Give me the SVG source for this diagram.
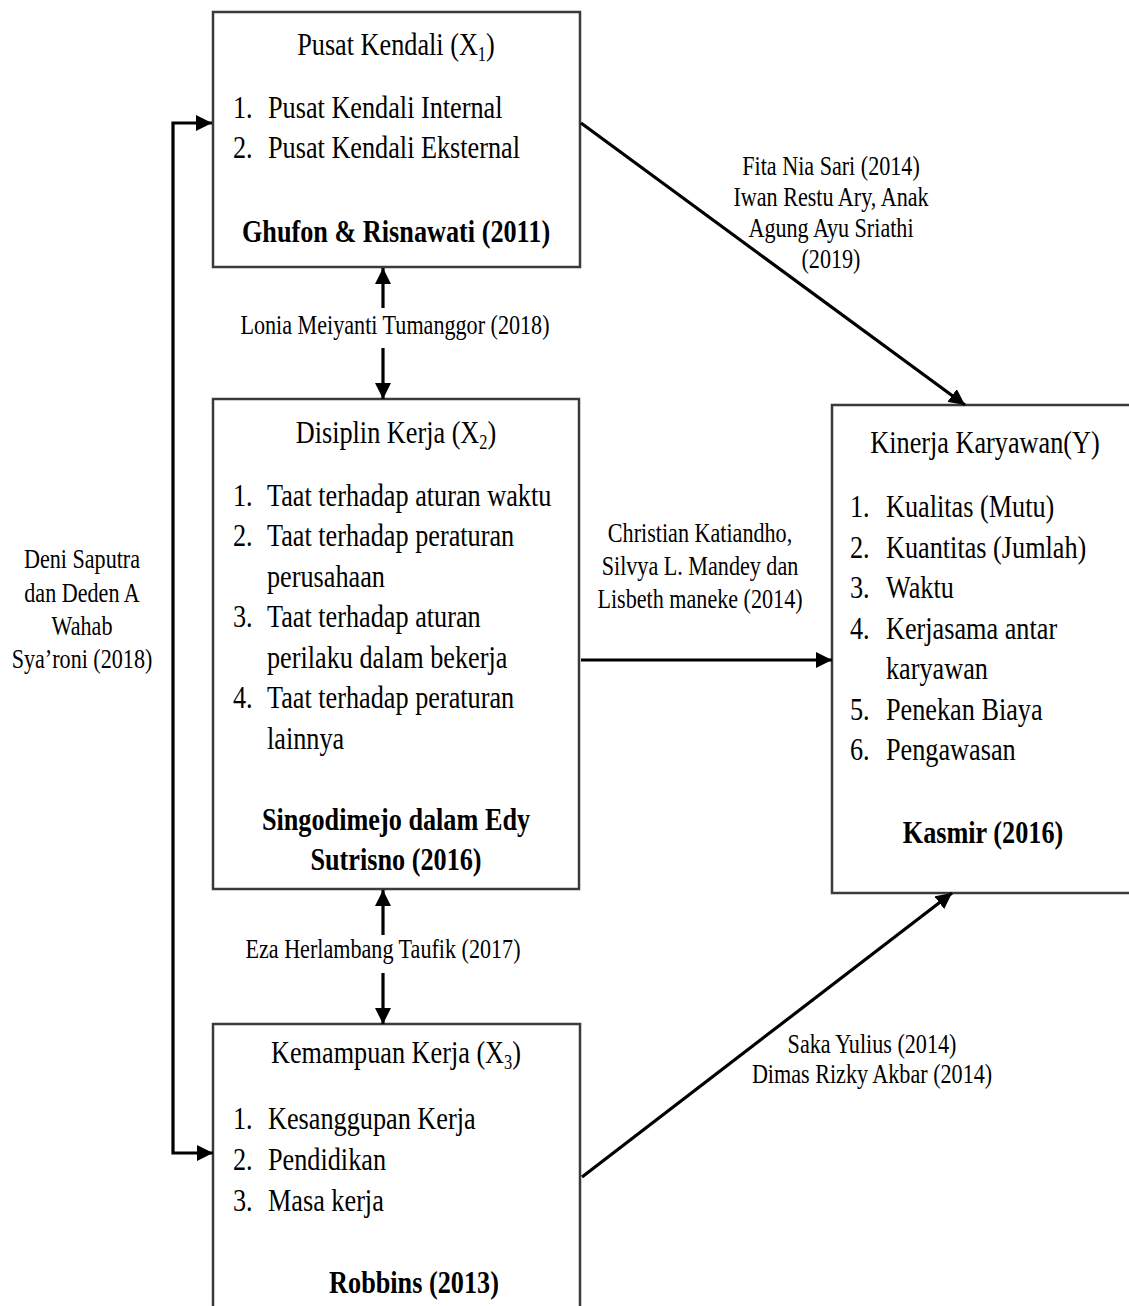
<svg xmlns="http://www.w3.org/2000/svg" width="1129" height="1306" viewBox="0 0 1129 1306">
<style>
.box{fill:#fff;stroke:#3a3a3a;stroke-width:2.5}
.t{font-family:"Liberation Serif","Times New Roman",serif;font-size:32px;fill:#000}
.bd{font-weight:bold}
.m{text-anchor:middle}
.l{font-family:"Liberation Serif","Times New Roman",serif;font-size:27px;fill:#000;text-anchor:middle}
.c{fill:none;stroke:#000;stroke-width:3.2}
</style>
<defs>
<marker id="ah" markerUnits="userSpaceOnUse" viewBox="0 0 16 16" refX="16" refY="8" markerWidth="16" markerHeight="16" orient="auto-start-reverse">
<path d="M0,0 L16,8 L0,16 z" fill="#000"/>
</marker>
</defs>
<rect width="1129" height="1306" fill="#fff"/>

<g id="n-x1">
<rect class="box" x="213" y="12" width="367" height="255"/>
<text class="t m" transform="matrix(.82 0 0 1 396 55)">Pusat Kendali (X<tspan font-size="20" dy="6">1</tspan><tspan dy="-6">)</tspan></text>
<text class="t" transform="matrix(.82 0 0 1 233 118)">1.</text>
<text class="t" transform="matrix(.82 0 0 1 268 118)">Pusat Kendali Internal</text>
<text class="t" transform="matrix(.82 0 0 1 233 158)">2.</text>
<text class="t" transform="matrix(.82 0 0 1 268 158)">Pusat Kendali Eksternal</text>
<text class="t bd m" transform="matrix(.82 0 0 1 396 242)">Ghufon &amp; Risnawati (2011)</text>
</g>

<g id="n-x2">
<rect class="box" x="213" y="399" width="366" height="490"/>
<text class="t m" transform="matrix(.82 0 0 1 396 443)">Disiplin Kerja (X<tspan font-size="20" dy="6">2</tspan><tspan dy="-6">)</tspan></text>
<text class="t" transform="matrix(.82 0 0 1 233 506)">1.</text>
<text class="t" transform="matrix(.82 0 0 1 267 506)">Taat terhadap aturan waktu</text>
<text class="t" transform="matrix(.82 0 0 1 233 546)">2.</text>
<text class="t" transform="matrix(.82 0 0 1 267 546)">Taat terhadap peraturan</text>
<text class="t" transform="matrix(.82 0 0 1 267 587)">perusahaan</text>
<text class="t" transform="matrix(.82 0 0 1 233 627)">3.</text>
<text class="t" transform="matrix(.82 0 0 1 267 627)">Taat terhadap aturan</text>
<text class="t" transform="matrix(.82 0 0 1 267 668)">perilaku dalam bekerja</text>
<text class="t" transform="matrix(.82 0 0 1 233 708)">4.</text>
<text class="t" transform="matrix(.82 0 0 1 267 708)">Taat terhadap peraturan</text>
<text class="t" transform="matrix(.82 0 0 1 267 749)">lainnya</text>
<text class="t bd m" transform="matrix(.82 0 0 1 396 830)">Singodimejo dalam Edy</text>
<text class="t bd m" transform="matrix(.82 0 0 1 396 870)">Sutrisno (2016)</text>
</g>

<g id="n-x3">
<rect class="box" x="213" y="1024" width="367" height="300"/>
<text class="t m" transform="matrix(.82 0 0 1 396 1063)">Kemampuan Kerja (X<tspan font-size="20" dy="6">3</tspan><tspan dy="-6">)</tspan></text>
<text class="t" transform="matrix(.82 0 0 1 233 1129)">1.</text>
<text class="t" transform="matrix(.82 0 0 1 268 1129)">Kesanggupan Kerja</text>
<text class="t" transform="matrix(.82 0 0 1 233 1170)">2.</text>
<text class="t" transform="matrix(.82 0 0 1 268 1170)">Pendidikan</text>
<text class="t" transform="matrix(.82 0 0 1 233 1211)">3.</text>
<text class="t" transform="matrix(.82 0 0 1 268 1211)">Masa kerja</text>
<text class="t bd m" transform="matrix(.82 0 0 1 414 1293)">Robbins (2013)</text>
</g>

<g id="n-y">
<rect class="box" x="832" y="405" width="320" height="488"/>
<text class="t m" transform="matrix(.82 0 0 1 985 453)">Kinerja Karyawan(Y)</text>
<text class="t" transform="matrix(.82 0 0 1 850 517)">1.</text>
<text class="t" transform="matrix(.82 0 0 1 886 517)">Kualitas (Mutu)</text>
<text class="t" transform="matrix(.82 0 0 1 850 558)">2.</text>
<text class="t" transform="matrix(.82 0 0 1 886 558)">Kuantitas (Jumlah)</text>
<text class="t" transform="matrix(.82 0 0 1 850 598)">3.</text>
<text class="t" transform="matrix(.82 0 0 1 886 598)">Waktu</text>
<text class="t" transform="matrix(.82 0 0 1 850 639)">4.</text>
<text class="t" transform="matrix(.82 0 0 1 886 639)">Kerjasama antar</text>
<text class="t" transform="matrix(.82 0 0 1 886 679)">karyawan</text>
<text class="t" transform="matrix(.82 0 0 1 850 720)">5.</text>
<text class="t" transform="matrix(.82 0 0 1 886 720)">Penekan Biaya</text>
<text class="t" transform="matrix(.82 0 0 1 850 760)">6.</text>
<text class="t" transform="matrix(.82 0 0 1 886 760)">Pengawasan</text>
<text class="t bd m" transform="matrix(.82 0 0 1 983 843)">Kasmir (2016)</text>
</g>

<g id="connectors">
<path class="c" d="M581,123 L965,405" marker-end="url(#ah)"/>
<path class="c" d="M581,660 L832,660" marker-end="url(#ah)"/>
<path class="c" d="M582,1177 L952,893" marker-end="url(#ah)"/>
<path class="c" d="M383,308 L383,268" marker-end="url(#ah)"/>
<path class="c" d="M383,348 L383,399" marker-end="url(#ah)"/>
<path class="c" d="M383,935 L383,890" marker-end="url(#ah)"/>
<path class="c" d="M383,973 L383,1024" marker-end="url(#ah)"/>
<path class="c" d="M212,123 H173 V1153 H213" marker-start="url(#ah)" marker-end="url(#ah)"/>

<text class="l" transform="matrix(.82 0 0 1 395 334)">Lonia Meiyanti Tumanggor (2018)</text>
<text class="l" transform="matrix(.82 0 0 1 383 958)">Eza Herlambang Taufik (2017)</text>
<text class="l" transform="matrix(.82 0 0 1 831 175)">Fita Nia Sari (2014)</text>
<text class="l" transform="matrix(.82 0 0 1 831 206)">Iwan Restu Ary, Anak</text>
<text class="l" transform="matrix(.82 0 0 1 831 237)">Agung Ayu Sriathi</text>
<text class="l" transform="matrix(.82 0 0 1 831 268)">(2019)</text>
<text class="l" transform="matrix(.82 0 0 1 700 542)">Christian Katiandho,</text>
<text class="l" transform="matrix(.82 0 0 1 700 575)">Silvya L. Mandey dan</text>
<text class="l" transform="matrix(.82 0 0 1 700 608)">Lisbeth maneke (2014)</text>
<text class="l" transform="matrix(.82 0 0 1 872 1053)">Saka Yulius (2014)</text>
<text class="l" transform="matrix(.82 0 0 1 872 1083)">Dimas Rizky Akbar (2014)</text>
<text class="l" transform="matrix(.82 0 0 1 82 568)">Deni Saputra</text>
<text class="l" transform="matrix(.82 0 0 1 82 602)">dan Deden A</text>
<text class="l" transform="matrix(.82 0 0 1 82 635)">Wahab</text>
<text class="l" transform="matrix(.82 0 0 1 82 668)">Sya’roni (2018)</text>
</g>
</svg>
